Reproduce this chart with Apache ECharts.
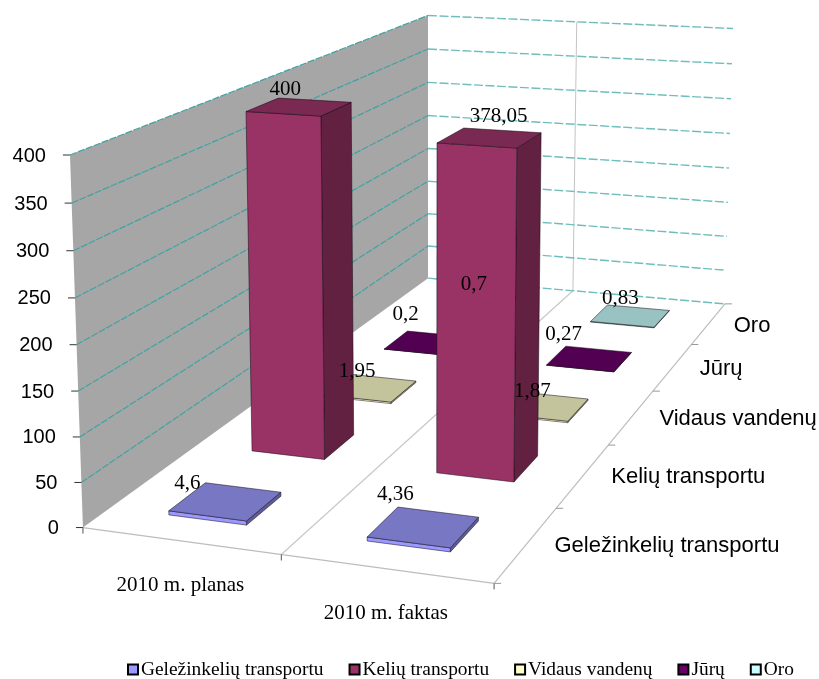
<!DOCTYPE html>
<html><head><meta charset="utf-8">
<style>html,body{margin:0;padding:0;background:#fff}#c{width:819px;height:679px}</style>
<script src="https://cdn.jsdelivr.net/npm/echarts@6/dist/echarts.min.js"></script>
</head><body><div id="c"></div>
<script>
const categories = ['2010 m. planas', '2010 m. faktas'];
const seriesNames = ['Geležinkelių transportu', 'Kelių transportu', 'Vidaus vandenų', 'Jūrų', 'Oro'];
const gelezinkeliu = [4.6, 4.36];
const keliu = [400, 378.05];
const vidaus = [1.95, 1.87];
const juru = [0.2, 0.27];
const oro = [0.7, 0.83];
const yTicks = [0, 50, 100, 150, 200, 250, 300, 350, 400];

const allValues = [gelezinkeliu, keliu, vidaus, juru, oro];
const frontColors = ['#9999FF', '#993366', '#FFFFCC', '#660066', '#CCFFFF'];
const topColors   = ['#7777C4', '#7A2952', '#C4C49C', '#520052', '#99C2C2'];
const sideColors  = ['#5C5C99', '#632142', '#A6A685', '#420042', '#85A6A6'];

// Camera: screen positions of the plot box corners, [u, v, h fraction, px, py]
const anchors = [
  [0,0,0, 83,527],[2,0,0, 494,584],[2,5,0, 725,303],[0,5,0, 428,279],
  [0,0,1, 70,155],[0,5,1, 428,15],[2,5,1, 733,29]
];
function solveCamera() {
  const n = 11, A = Array.from({length:n},()=>new Array(n+1).fill(0));
  const add = (r, b) => { for (let i=0;i<n;i++){ for (let j=0;j<n;j++) A[i][j]+=r[i]*r[j]; A[i][n]+=r[i]*b; } };
  anchors.forEach(([u,v,h,x,y]) => {
    add([u,v,h,1,0,0,0,0,-x*u,-x*v,-x*h], x);
    add([0,0,0,0,u,v,h,1,-y*u,-y*v,-y*h], y);
  });
  for (let c=0;c<n;c++){
    let p=c; for(let r=c+1;r<n;r++) if(Math.abs(A[r][c])>Math.abs(A[p][c])) p=r;
    [A[c],A[p]]=[A[p],A[c]];
    for(let r=0;r<n;r++) if(r!==c){ const f=A[r][c]/A[c][c]; for(let k=c;k<=n;k++) A[r][k]-=f*A[c][k]; }
  }
  return A.map((row,i)=>row[n]/row[i]);
}
const M = solveCamera();
function project(u,v,h){
  const w = M[8]*u+M[9]*v+M[10]*h+1;
  return [(M[0]*u+M[1]*v+M[2]*h+M[3])/w, (M[4]*u+M[5]*v+M[6]*h+M[7])/w];
}

const W = 819, H = 679;
const halfU = 0.2, halfV = 0.21, shiftU = 0.005;
const LBL_SERIF = '"Liberation Serif","Times New Roman",serif';
const LBL_SANS = '"Liberation Sans",Arial,sans-serif';

// turn the library's scale output into plot-box coordinates
function toBox(api, catIdx, value){
  const p = api.coord([catIdx, value]);
  return { u: p[0]/W*2, h: (H-p[1])/H };
}
const poly = (pts, fill, stroke) => ({type:'polygon', shape:{points:pts}, style:{fill, stroke:stroke||'rgba(20,10,20,0.65)', lineWidth:0.8, lineJoin:'round'}});
const seg = (a,b,stroke,lw,dash) => ({type:'line', shape:{x1:a[0],y1:a[1],x2:b[0],y2:b[1]}, style:{stroke, lineWidth:lw, lineDash:dash||null}});
const txt = (x,y,text,font,size,align) => ({type:'text', style:{x,y,text,fontFamily:font,fontSize:size,fill:'#000',align:align||'center',verticalAlign:'middle'}});

function renderScene(params, api){
  if (params.dataIndex !== 0) return;
  const kids = [];
  const f = (u,v) => project(u,v,0);
  kids.push(poly([project(0,0,0),project(0,5,0),project(0,5,1),project(0,0,1)], '#A6A6A6', 'none'));
  kids.push(seg(f(0,0),f(2,0),'#BDBDBD',1.2));
  kids.push(seg(f(1,0),f(1,5),'#C8C8C8',1.2));
  kids.push(seg(f(2,0),f(2,5),'#BDBDBD',1.2));
  kids.push(seg(project(1,5,0),project(1,5,1),'#C4C4C4',1));
  yTicks.forEach(t => {
    const h = toBox(api,0,t).h, a = project(0,0,h), b = project(0,5,h), c = project(2,5,h);
    if (t > 0) kids.push(seg(a,b,'#3FA3A3',1.2,[7,1.5]));
    kids.push(seg(b,c,'#6FBDBD',1.4,[9,2.5]));
    kids.push(seg([a[0]-7,a[1]],a,'#333',1));
    kids.push(txt(a[0]-24,a[1]+1,String(t),LBL_SANS,20,'right'));
  });
  [0,1,2].forEach(u => { const p=f(u,0); kids.push(seg(p,[p[0],p[1]+6],'#555',1)); });
  for (let v=0;v<=5;v++){ const p=f(2,v); kids.push(seg(p,[p[0]+7,p[1]],'#999',1)); }
  return {type:'group', children:kids};
}

function renderBar(params, api){
  const si = api.value(2), box = toBox(api, api.value(0), api.value(1));
  const u0 = box.u+shiftU-halfU, u1 = box.u+shiftU+halfU, v0 = si+0.5-halfV, v1 = si+0.5+halfV, h = box.h;
  const a=project(u0,v0,0), b=project(u1,v0,0), c=project(u1,v1,0),
        at=project(u0,v0,h), bt=project(u1,v0,h), ct=project(u1,v1,h), dt=project(u0,v1,h);
  return {type:'group', children:[
    poly([b,c,ct,bt], sideColors[si]),
    poly([a,b,bt,at], frontColors[si]),
    poly([at,bt,ct,dt], topColors[si])
  ]};
}

const valueTexts = [['4,6','4,36'],['400','378,05'],['1,95','1,87'],['0,2','0,27'],['0,7','0,83']];
// label offset from the top-centre of each column, in pixels
const labelOffsets = [[[-37,-18],[-27,-32]],[[-13,-17],[10,-21]],[[-12,-16],[-9,-15]],[[-21,-28],[-25,-24]],[[-3,-18],[-9,-17]]];
const depthLabelDx = [28, 28, 28, 27, 25];

function renderLabels(params, api){
  const ci=api.value(0), si=api.value(2), box=toBox(api,ci,api.value(1));
  const p=project(box.u, si+0.5, box.h), o=labelOffsets[si][ci];
  return txt(p[0]+o[0],p[1]+o[1],valueTexts[si][ci],LBL_SERIF,21);
}
function renderAxisNames(params, api){
  if (params.dataIndex !== 0) return;
  const kids=[];
  categories.forEach((c,i)=>{ const p=project(i+0.5,0,0); kids.push(txt(p[0],p[1]+45,c,LBL_SERIF,21)); });
  seriesNames.forEach((n,i)=>{ const p=project(2,i+0.5,0); kids.push(txt(p[0]+depthLabelDx[i],p[1]+2,n,LBL_SANS,22,'left')); });
  return {type:'group',children:kids};
}

const perSeries = seriesNames.map((name,si)=>({
  name, type:'custom', coordinateSystem:'cartesian2d', z: 10-si+(si===0?5:0), silent:true, clip:false,
  itemStyle:{color:frontColors[si]},
  encode:{x:0,y:1},
  data: categories.map((c,ci)=>[ci, allValues[si][ci], si]),
  renderItem: renderBar
}));
const labelData = [];
allValues.forEach((vals,si)=>vals.forEach((v,ci)=>labelData.push([ci,v,si])));

const chart = echarts.init(document.getElementById('c'), null, {renderer:'canvas', width:W, height:H});
chart.setOption({
  animation:false,
  backgroundColor:'#fff',
  tooltip:{show:false},
  legend:{
    data: seriesNames.map(name=>({name,icon:'rect'})),
    left:122, top:655, itemWidth:10, itemHeight:10, itemGap:25,
    selectedMode:false,
    itemStyle:{borderColor:'#000',borderWidth:2},
    textStyle:{fontFamily:LBL_SERIF,fontSize:19.4,color:'#000',padding:[0,0,0,-2]}
  },
  grid:{left:0,top:0,width:W,height:H,containLabel:false},
  xAxis:{type:'category',data:categories,show:false},
  yAxis:{type:'value',min:0,max:400,interval:50,show:false},
  series:[
    {name:'scene',type:'custom',z:1,silent:true,clip:false,encode:{x:0,y:1},data:[[0,0]],renderItem:renderScene},
    ...perSeries,
    {name:'labels',type:'custom',z:30,silent:true,clip:false,encode:{x:0,y:1},data:labelData,renderItem:renderLabels},
    {name:'axisNames',type:'custom',z:30,silent:true,clip:false,encode:{x:0,y:1},data:[[0,0]],renderItem:renderAxisNames}
  ]
});
</script></body></html>
